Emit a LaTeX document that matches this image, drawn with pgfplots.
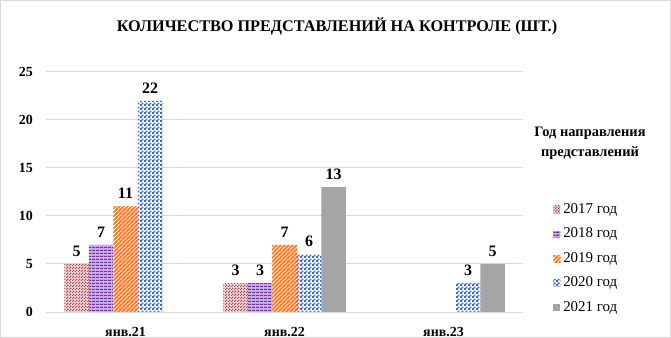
\documentclass[border=0pt]{standalone}
\usepackage{fontspec}
\setmainfont{Liberation Serif}
\usepackage{pgfplots}
\pgfplotsset{compat=1.18}
\usetikzlibrary{patterns}

\definecolor{red17}{RGB}{175,65,75}
\definecolor{pink17}{RGB}{245,225,228}
\definecolor{purple18}{RGB}{112,48,160}
\definecolor{lpurple18}{RGB}{204,176,232}
\definecolor{orange19}{RGB}{237,125,49}
\definecolor{blue20}{RGB}{60,105,190}
\definecolor{gray21}{RGB}{165,165,165}
\definecolor{gridgray}{RGB}{217,217,217}

\pgfdeclarepatternformonly{fchk}{\pgfqpoint{0bp}{0bp}}{\pgfqpoint{3bp}{3bp}}{\pgfqpoint{3bp}{3bp}}{%
  \pgfpathrectangle{\pgfqpoint{0bp}{0bp}}{\pgfqpoint{1.5bp}{1.5bp}}%
  \pgfpathrectangle{\pgfqpoint{1.5bp}{1.5bp}}{\pgfqpoint{1.5bp}{1.5bp}}%
  \pgfusepath{fill}}
\pgfdeclarepatternformonly{bchk}{\pgfqpoint{0bp}{0bp}}{\pgfqpoint{4bp}{4bp}}{\pgfqpoint{4bp}{4bp}}{%
  \pgfpathrectangle{\pgfqpoint{0bp}{0bp}}{\pgfqpoint{2.2bp}{2.2bp}}%
  \pgfpathrectangle{\pgfqpoint{2bp}{2bp}}{\pgfqpoint{2.2bp}{2.2bp}}%
  \pgfusepath{fill}}
\pgfdeclarepatternformonly{hln}{\pgfqpoint{0bp}{0bp}}{\pgfqpoint{4bp}{3bp}}{\pgfqpoint{4bp}{3bp}}{%
  \pgfpathrectangle{\pgfqpoint{0bp}{0bp}}{\pgfqpoint{4bp}{1.5bp}}%
  \pgfusepath{fill}}
\pgfdeclarepatternformonly{dln}{\pgfqpoint{-1bp}{-1bp}}{\pgfqpoint{5bp}{5bp}}{\pgfqpoint{4bp}{4bp}}{%
  \pgfsetlinewidth{1.5bp}%
  \pgfpathmoveto{\pgfqpoint{-1bp}{-1bp}}\pgfpathlineto{\pgfqpoint{5bp}{5bp}}%
  \pgfusepath{stroke}}

\begin{document}
\begin{tikzpicture}
\useasboundingbox (0,0) rectangle (671bp,338bp);
\draw[gridgray, line width=1bp] (0.5bp,0.5bp) rectangle (670.5bp,337.5bp);
\node[font=\bfseries\fontsize{16.3}{18}\selectfont] at (337bp,312bp) {КОЛИЧЕСТВО ПРЕДСТАВЛЕНИЙ НА КОНТРОЛЕ (ШТ.)};
\node[font=\bfseries\fontsize{14.5}{20}\selectfont, align=center] at (590bp,195bp) {Год направления\\представлений};
\begin{axis}[
  at={(46bp,26bp)}, anchor=south west,
  scale only axis, width=477bp, height=240bp,
  xmin=-0.5, xmax=2.5, ymin=0, ymax=25,
  ybar=0pt, bar width=24.5bp,
  xtick={0,1,2}, xticklabels={янв.21,янв.22,янв.23},
  ytick={0,5,...,25},
  axis line style={draw=none},
  major tick length=0pt,
  ymajorgrids, grid style={draw=gridgray, line width=1bp},
  /pgf/number format/assume math mode=true,
  ticklabel style={font=\bfseries\fontsize{14}{16}\selectfont},
  yticklabel style={anchor=east, inner sep=0pt, xshift=-13bp},
  xticklabel style={anchor=base, inner sep=0pt, yshift=-24bp},
  nodes near coords,
  every node near coord/.append style={font=\bfseries\fontsize{16}{18}\selectfont, text=black, yshift=4bp},
  legend image code/.code={\path[#1] (0bp,-3.5bp) rectangle (7bp,3.5bp);},
  legend cell align=left,
  legend style={at={(1.063,0.455)}, anchor=north west, draw=none, fill=none, inner sep=0pt,
    font=\fontsize{15}{16}\selectfont,
    nodes={text height=10bp, text depth=3bp, inner sep=0pt},
    row sep=11.6bp, column sep=3bp},
]
\addplot[draw=none, fill=pink17, postaction={pattern=fchk, pattern color=red17}] coordinates {(0,5) (1,3)};
\addlegendentry{2017 год}
\addplot[draw=none, fill=lpurple18, postaction={pattern=hln, pattern color=purple18}] coordinates {(0,7) (1,3)};
\addlegendentry{2018 год}
\addplot[draw=none, fill=white, postaction={pattern=dln, pattern color=orange19}] coordinates {(0,11) (1,7)};
\addlegendentry{2019 год}
\addplot[draw=none, fill=white, postaction={pattern=bchk, pattern color=blue20}] coordinates {(0,22) (1,6) (2,3)};
\addlegendentry{2020 год}
\addplot[draw=none, fill=gray21] coordinates {(1,13) (2,5)};
\addlegendentry{2021 год}
\end{axis}
\end{tikzpicture}
\end{document}
